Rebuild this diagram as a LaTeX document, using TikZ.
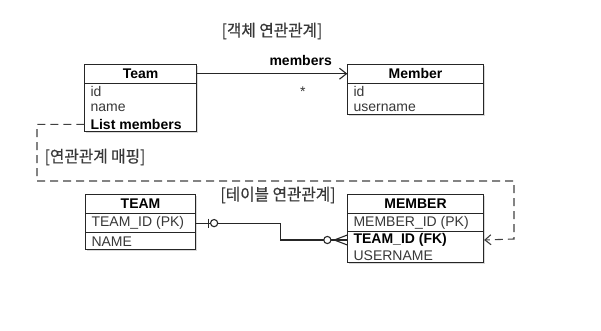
\documentclass[tikz,border=0pt]{standalone}
\usepackage{fontspec}
\setmainfont{Liberation Sans}
\newfontfamily\kr[FakeStretch=0.95, FakeBold=0.4]{Noto Sans CJK KR}
\usetikzlibrary{positioning,arrows.meta,shadows}

\tikzset{
  tbl/.style={draw=black!85, line width=1.1pt, fill=white, anchor=north west, inner sep=0pt,
    drop shadow={shadow xshift=1.2pt, shadow yshift=-1.5pt, opacity=.3}},
  hd/.style={anchor=north, inner sep=0pt, minimum height=19, font=\bfseries},
  row/.style={anchor=north west, inner xsep=6pt, inner ysep=0pt, minimum height=#1, text=black!78},
  row/.default=16,
  rule/.style={draw=black!85, line width=1.1pt},
  conn/.style={draw=black!85, line width=1.1pt},
  mapline/.style={draw=black!75, line width=1.1pt, dash pattern=on 8pt off 5pt},
  lbl/.style={font=\kr\fontsize{16.5}{18}\selectfont, text=black!78}
}

\begin{document}
\fontsize{14}{16}\selectfont
\begin{tikzpicture}[x=1pt, y=-1pt]
  \useasboundingbox (0,0) rectangle (601,331);

  \node[lbl] (objtitle) at (272,31) {[객체 연관관계]};
  \node[lbl] (maptitle) at (95,157) {[연관관계 매핑]};
  \node[lbl] (tbltitle) at (278,195) {[테이블 연관관계]};

  \node[tbl, minimum width=112, minimum height=67] (team) at (84,64) {};
  \node[hd, minimum width=112] (teamhd) at (team.north) {Team};
  \draw[rule] (teamhd.south west) -- (teamhd.south east);
  \node[row] (teamid) at (teamhd.south west) {id};
  \node[row] (teamname) at (teamid.south west) {name};
  \node[row, font=\bfseries, text=black] (teamlist) at (teamname.south west) {List members};

  \node[tbl, minimum width=136, minimum height=50] (member) at (347,64) {};
  \node[hd, minimum width=136] (memhd) at (member.north) {Member};
  \draw[rule] (memhd.south west) -- (memhd.south east);
  \node[row] (memid) at (memhd.south west) {id};
  \node[row] (memname) at (memid.south west) {username};

  \draw[conn, -{Straight Barb[length=7pt, width=11pt]}] (teamhd.east) -- (memhd.west)
    node[pos=.69, above=3pt, font=\bfseries, text=black] {members}
    node[pos=.705, below=8pt, text=black!80] {*};

  \node[tbl, minimum width=110, minimum height=55] (tteam) at (85,194) {};
  \node[hd, minimum width=110] (tteamhd) at (tteam.north) {TEAM};
  \draw[rule] (tteamhd.south west) -- (tteamhd.south east);
  \node[row=19] (teampk) at (tteamhd.south west) {TEAM\_ID (PK)};
  \draw[rule] (teampk.south west) -- (teampk.south west -| tteam.east);
  \node[row=17] (teamnm) at (teampk.south west) {NAME};

  \node[tbl, minimum width=136, minimum height=68] (tmember) at (347,194) {};
  \node[hd, minimum width=136] (tmemhd) at (tmember.north) {MEMBER};
  \draw[rule] (tmemhd.south west) -- (tmemhd.south east);
  \node[row=18] (mempk) at (tmemhd.south west) {MEMBER\_ID (PK)};
  \draw[rule] (mempk.south west) -- (mempk.south west -| tmember.east);
  \node[row, font=\bfseries, text=black] (memfk) at (mempk.south west) {TEAM\_ID (FK)};
  \node[row=15] (memuser) at (memfk.south west) {USERNAME};

  \coordinate (pkend) at (teampk -| tteam.east);
  \coordinate (fkend) at (memfk.west);
  \draw[conn] (pkend) -- ++(84,0) |- (fkend);
  \draw[conn] ([xshift=12pt, yshift=4.5pt]pkend) -- ([xshift=12pt, yshift=-4.5pt]pkend);
  \draw[conn, fill=white] ([xshift=18pt]pkend) circle (3.6pt);
  \draw[conn] ([xshift=-13pt]fkend) -- ([yshift=5pt]fkend)
    ([xshift=-13pt]fkend) -- (fkend)
    ([xshift=-13pt]fkend) -- ([yshift=-5pt]fkend);
  \draw[conn, fill=white] ([xshift=-20pt]fkend) circle (3.6pt);

  \coordinate (mapL) at (37,181);
  \coordinate (mapR) at (514,239);
  \draw[mapline, -{Straight Barb[length=6pt, width=10pt]}] (teamlist.west) -| (mapL) -| (mapR) -- (memfk -| tmember.east);
\end{tikzpicture}
\end{document}
